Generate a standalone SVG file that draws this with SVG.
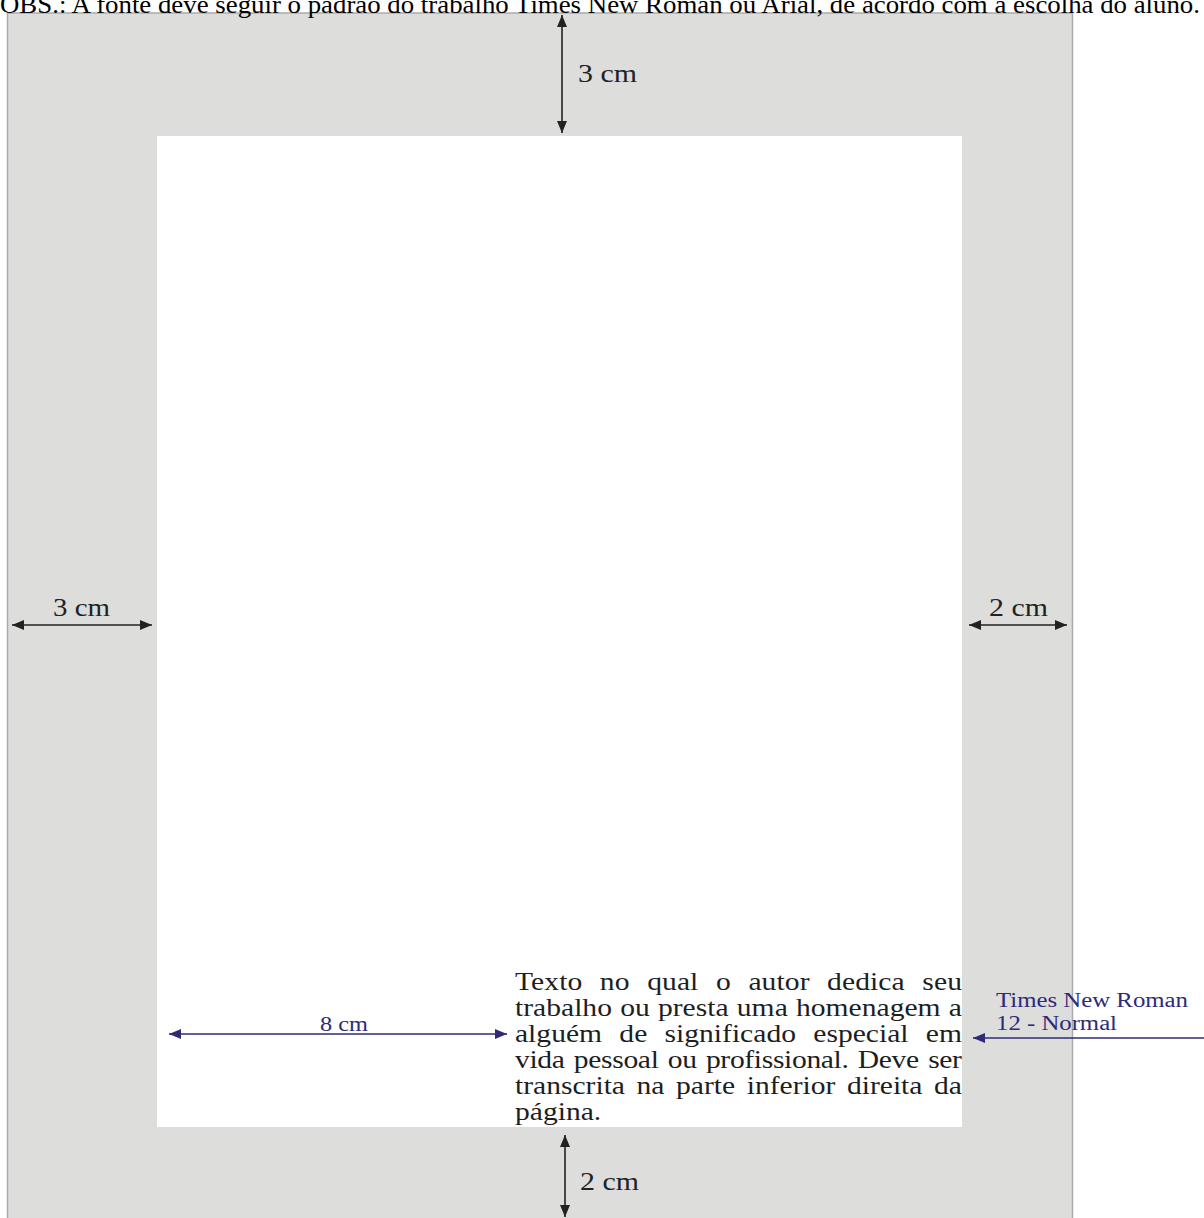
<svg xmlns="http://www.w3.org/2000/svg" width="1204" height="1218" viewBox="0 0 1204 1218">
  <style>
    .serif { font-family: "Liberation Serif", "Times New Roman", serif; }
    .dim { font-size: 26px; fill: #222; }
    .navy { fill: #2e2a78; }
    .blk { stroke: #222; stroke-width: 1.6; fill: none; }
    .nav { stroke: #2e2a78; stroke-width: 1.6; fill: none; }
    .para { font-size: 25.5px; fill: #1e1e1e; }
  </style>
  <defs>
    <marker id="ab" viewBox="0 0 12 10" refX="12" refY="5" markerWidth="12" markerHeight="10" markerUnits="userSpaceOnUse" orient="auto-start-reverse">
      <path d="M0,0 L12,5 L0,10 z" fill="#222"/>
    </marker>
    <marker id="an" viewBox="0 0 12 10" refX="12" refY="5" markerWidth="12" markerHeight="10" markerUnits="userSpaceOnUse" orient="auto-start-reverse">
      <path d="M0,0 L12,5 L0,10 z" fill="#2e2a78"/>
    </marker>
  </defs>
  <rect width="1204" height="1218" fill="#ffffff"/>
  <g id="page">
    <rect x="7.5" y="13" width="1065" height="1220" fill="#dddddc" stroke="#ababab" stroke-width="1.5"/>
    <rect x="157" y="136" width="805" height="991" fill="#ffffff"/>
  </g>
  <text class="serif" x="0" y="13" font-size="26" fill="#000" textLength="1200" lengthAdjust="spacingAndGlyphs">OBS.: A fonte deve seguir o padrão do trabalho Times New Roman ou Arial, de acordo com a escolha do aluno.</text>
  <g id="connectors">
    <line class="blk" x1="562" y1="15" x2="562" y2="133" marker-start="url(#ab)" marker-end="url(#ab)"/>
    <line class="blk" x1="12" y1="625" x2="152" y2="625" marker-start="url(#ab)" marker-end="url(#ab)"/>
    <line class="blk" x1="969" y1="625" x2="1067" y2="625" marker-start="url(#ab)" marker-end="url(#ab)"/>
    <line class="blk" x1="565" y1="1135" x2="565" y2="1217" marker-start="url(#ab)" marker-end="url(#ab)"/>
    <line class="nav" x1="169" y1="1034" x2="507" y2="1034" marker-start="url(#an)" marker-end="url(#an)"/>
    <line class="nav" x1="1204" y1="1038" x2="973" y2="1038" marker-end="url(#an)"/>
  </g>
  <g id="labels">
    <text class="serif dim" x="578" y="82" textLength="59" lengthAdjust="spacingAndGlyphs">3 cm</text>
    <text class="serif dim" x="53" y="616" textLength="57" lengthAdjust="spacingAndGlyphs">3 cm</text>
    <text class="serif dim" x="989" y="616" textLength="59" lengthAdjust="spacingAndGlyphs">2 cm</text>
    <text class="serif dim" x="580" y="1190" textLength="59" lengthAdjust="spacingAndGlyphs">2 cm</text>
    <text class="serif navy" x="320" y="1031" font-size="20" textLength="48" lengthAdjust="spacingAndGlyphs">8 cm</text>
    <text class="serif navy" x="996" y="1007" font-size="20.5" textLength="192" lengthAdjust="spacingAndGlyphs">Times New Roman</text>
    <text class="serif navy" x="996" y="1030" font-size="20.5" textLength="121" lengthAdjust="spacingAndGlyphs">12 - Normal</text>
  </g>
  <g id="paragraph" class="serif para" transform="translate(515,0) scale(1.16,1)">
    <text x="0" y="990" word-spacing="8.7" textLength="385.3" lengthAdjust="spacing">Texto no qual o autor dedica seu</text>
    <text x="0" y="1016" word-spacing="0.7" textLength="385.3" lengthAdjust="spacing">trabalho ou presta uma homenagem a</text>
    <text x="0" y="1042" word-spacing="8.5" textLength="385.3" lengthAdjust="spacing">alguém de significado especial em</text>
    <text x="0" y="1068" word-spacing="1.9" textLength="385.3" lengthAdjust="spacing">vida pessoal ou profissional. Deve ser</text>
    <text x="0" y="1094" word-spacing="3.6" textLength="385.3" lengthAdjust="spacing">transcrita na parte inferior direita da</text>
    <text x="0" y="1120">página.</text>
  </g>
</svg>
